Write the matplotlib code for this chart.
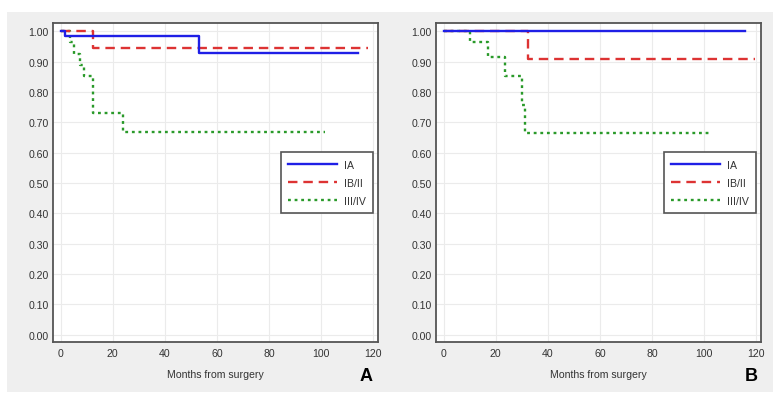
import matplotlib
matplotlib.use("Agg")
import matplotlib.pyplot as plt
from matplotlib.patches import Rectangle

plt.rcParams['font.family'] = ['Liberation Sans', 'DejaVu Sans']

groups = ["IA", "IB/II", "III/IV"]
colors = ["#1f1fe6", "#dd3333", "#2a9a2a"]
styles = ["-", (0, (4, 2.5)), (0, (1.2, 1.6))]

# Panel A
a_ia_t = [0, 1.8, 53.2, 114]
a_ia_s = [1.0, 0.985, 0.928, 0.928]
a_ib_t = [0, 12.3, 118]
a_ib_s = [1.0, 0.943, 0.943]
a_iii_t = [0, 3.5, 5.0, 7.5, 9.0, 12.3, 23.8, 101.5]
a_iii_s = [1.0, 0.963, 0.926, 0.889, 0.852, 0.731, 0.667, 0.667]

# Panel B
b_ia_t = [0, 115.5]
b_ia_s = [1.0, 1.0]
b_ib_t = [0, 32.6, 119.6]
b_ib_s = [1.0, 0.909, 0.909]
b_iii_t = [0, 10.1, 16.9, 23.6, 30.1, 31.3, 103]
b_iii_s = [1.0, 0.963, 0.914, 0.854, 0.757, 0.665, 0.665]

panels = [
    ("A", [(a_ia_t, a_ia_s), (a_ib_t, a_ib_s), (a_iii_t, a_iii_s)]),
    ("B", [(b_ia_t, b_ia_s), (b_ib_t, b_ib_s), (b_iii_t, b_iii_s)]),
]

xticks = [0, 20, 40, 60, 80, 100, 120]
yticks = [0.0, 0.1, 0.2, 0.3, 0.4, 0.5, 0.6, 0.7, 0.8, 0.9, 1.0]

fig = plt.figure(figsize=(7.81, 4.06), dpi=100, facecolor="white")
fig.patches.append(Rectangle((7 / 781, 1 - 393 / 406), 766 / 781, 380 / 406,
                             transform=fig.transFigure, facecolor="#efefef",
                             edgecolor="none", zorder=-10))

lefts = [52.7 / 781, 435.7 / 781]
letter_x = [0.4776, 0.9706]
for i, (letter, curves) in enumerate(panels):
    ax = fig.add_axes([lefts[i], 1 - 343 / 406, 325 / 781, 319 / 406])
    ax.set_zorder(1)
    ax.set_facecolor("white")
    lines = []
    for j, (t, s) in enumerate(curves):
        ln, = ax.step(t, s, where="post", color=colors[j], linestyle=styles[j],
                      lw=1.7, label=groups[j], zorder=3 - j * 0.1)
        lines.append(ln)
    ax.set_xlim(-3, 121.7)
    ax.set_ylim(-0.024, 1.027)
    ax.set_xticks(xticks)
    ax.set_yticks(yticks)
    ax.set_yticklabels([f"{v:.2f}" for v in yticks])
    ax.tick_params(length=0, labelsize=7.6, labelcolor="#333333")
    ax.tick_params(axis="y", pad=3)
    ax.tick_params(axis="x", pad=4)
    ax.grid(True, color="#ebebeb", lw=0.8)
    ax.set_axisbelow(True)
    for sp in ax.spines.values():
        sp.set_color("#555555")
        sp.set_linewidth(1.3)
    ax.set_xlabel("Months from surgery", fontsize=7.6, color="#333333", labelpad=8)
    leg = ax.legend(handles=lines, loc="upper right", bbox_to_anchor=(0.9865, 0.5947),
                    borderaxespad=0, fontsize=7.6, fancybox=False, framealpha=1,
                    edgecolor="#555555", handlelength=4.6, labelspacing=0.75,
                    borderpad=0.7, handletextpad=0.7)
    leg.get_frame().set_linewidth(1.2)
    for txt in leg.get_texts():
        txt.set_color("#333333")
    fig.text(letter_x[i], 1 - 377 / 406, letter, fontsize=13, fontweight="bold",
             ha="right", va="center")

fig.savefig("out.png", dpi=100, facecolor="white")
